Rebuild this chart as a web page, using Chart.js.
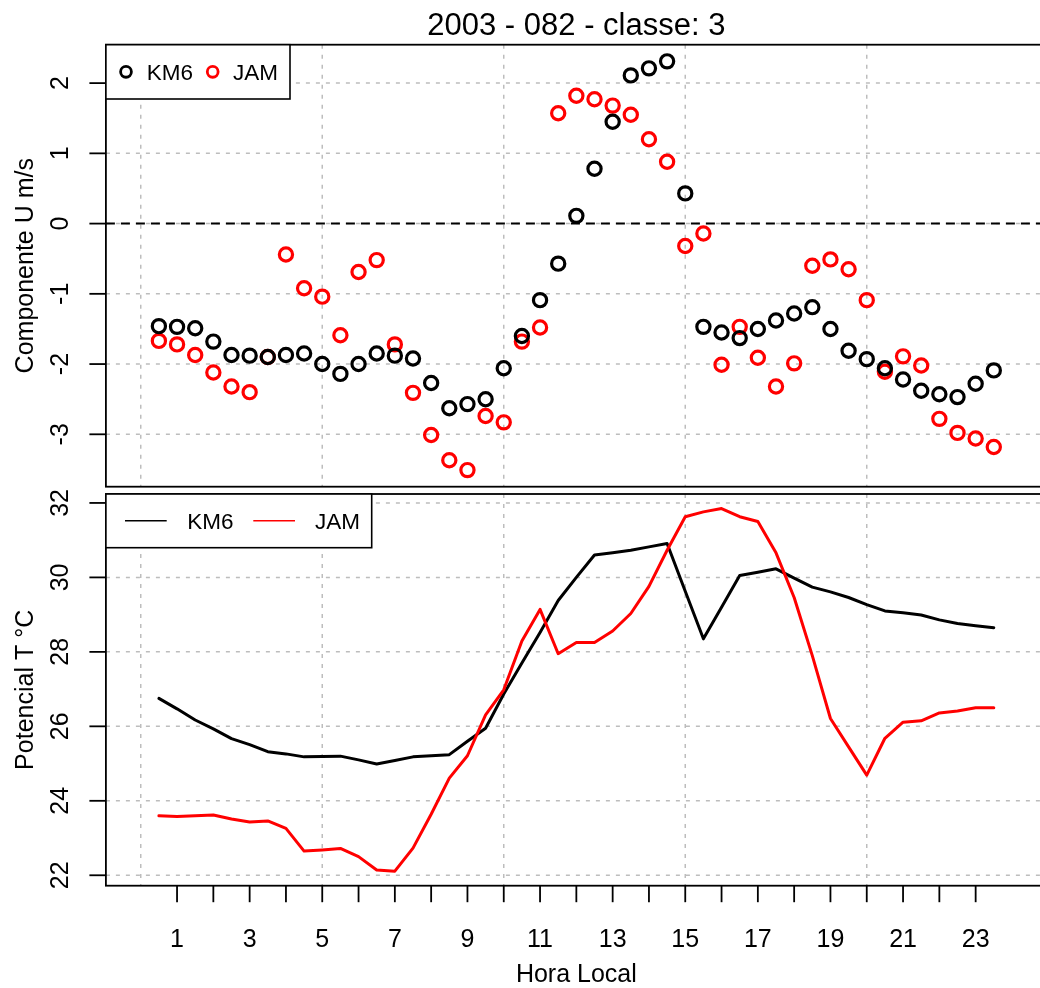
<!DOCTYPE html>
<html>
<head>
<meta charset="utf-8">
<script src="https://cdn.jsdelivr.net/npm/chart.js@4.4.0/dist/chart.umd.min.js"></script>
<style>
  html, body { margin: 0; padding: 0; background: #fff; overflow: hidden; }
  #wrap { position: relative; width: 1040px; height: 988px; overflow: hidden; background: #fff; }
  canvas { position: absolute; left: 0; }
  #uChart { top: 0; }
  #tChart { top: 480px; }
</style>
</head>
<body>
<div id="wrap">
  <canvas id="uChart" width="1050" height="490"></canvas>
  <canvas id="tChart" width="1050" height="508"></canvas>
</div>
<script>
const FONT = '"Liberation Sans", Arial, Helvetica, sans-serif';

// --- Data ---

const hours = [0.5, 1, 1.5, 2, 2.5, 3, 3.5, 4, 4.5, 5, 5.5, 6, 6.5, 7, 7.5, 8, 8.5, 9, 9.5, 10,
  10.5, 11, 11.5, 12, 12.5, 13, 13.5, 14, 14.5, 15, 15.5, 16, 16.5, 17, 17.5, 18, 18.5, 19, 19.5, 20,
  20.5, 21, 21.5, 22, 22.5, 23, 23.5];

// Componente U (m/s)
const km6U = [-1.46, -1.47, -1.49, -1.68, -1.87, -1.88, -1.90, -1.87, -1.85, -2.00,
  -2.14, -2.00, -1.85, -1.88, -1.92, -2.27, -2.63, -2.57, -2.50, -2.06,
  -1.60, -1.09, -0.57, 0.11, 0.78, 1.45, 2.11, 2.21, 2.31, 0.43,
  -1.47, -1.55, -1.63, -1.50, -1.38, -1.28, -1.19, -1.50, -1.81, -1.93,
  -2.06, -2.22, -2.38, -2.43, -2.47, -2.28, -2.09];
const jamU = [-1.67, -1.72, -1.87, -2.12, -2.32, -2.40, -1.90, -0.44, -0.92, -1.04,
  -1.59, -0.69, -0.52, -1.72, -2.41, -3.01, -3.37, -3.51, -2.74, -2.83,
  -1.68, -1.48, 1.57, 1.82, 1.77, 1.68, 1.55, 1.20, 0.88, -0.32,
  -0.14, -2.01, -1.47, -1.91, -2.32, -1.99, -0.60, -0.51, -0.65, -1.09,
  -2.11, -1.89, -2.02, -2.78, -2.98, -3.06, -3.18];

// Potencial T (°C)
const km6T = [26.75, 26.47, 26.17, 25.93, 25.67, 25.51, 25.32, 25.26, 25.18, 25.19,
  25.20, 25.10, 24.99, 25.08, 25.18, 25.21, 25.24, 25.60, 25.95, 26.87,
  27.70, 28.52, 29.38, 30.00, 30.60, 30.66, 30.73, 30.82, 30.91, 29.63,
  28.35, 29.20, 30.05, 30.14, 30.23, 29.98, 29.74, 29.61, 29.46, 29.27,
  29.10, 29.05, 28.99, 28.86, 28.76, 28.70, 28.65];
const jamT = [23.60, 23.58, 23.60, 23.62, 23.51, 23.43, 23.46, 23.26, 22.65, 22.68,
  22.72, 22.50, 22.14, 22.11, 22.73, 23.64, 24.61, 25.21, 26.31, 26.98,
  28.29, 29.14, 27.95, 28.25, 28.25, 28.56, 29.03, 29.76, 30.73, 31.63,
  31.76, 31.85, 31.63, 31.50, 30.66, 29.46, 27.90, 26.21, 25.45, 24.69,
  25.68, 26.11, 26.15, 26.36, 26.41, 26.50, 26.50];

const seriesNames = ['KM6', 'JAM'];
const seriesColors = ['#000000', '#ff0000'];

const uTicks = [-3, -2, -1, 0, 1, 2];
const tTicks = [22, 24, 26, 28, 30, 32];
const hourGrid = [0, 5, 10, 15, 20];
const hourTicks = [1, 2, 3, 4, 5, 6, 7, 8, 9, 10, 11, 12, 13, 14, 15, 16, 17, 18, 19, 20, 21, 22, 23];
const hourLabels = [1, 3, 5, 7, 9, 11, 13, 15, 17, 19, 21, 23];

const titleText = '2003 - 082 - classe: 3';
const uTitle = 'Componente U m/s';
const tTitle = 'Potencial T \u00B0C';
const xTitle = 'Hora Local';

// --- R-style frame plugin ---

function strokeLine(ctx, x1, y1, x2, y2) {
  ctx.beginPath();
  ctx.moveTo(x1, y1);
  ctx.lineTo(x2, y2);
  ctx.stroke();
}

function rotatedText(ctx, text, x, y) {
  ctx.save();
  ctx.translate(x, y);
  ctx.rotate(-Math.PI / 2);
  ctx.fillText(text, 0, 0);
  ctx.restore();
}

function drawLegend(ctx, a, lg) {
  const x0 = a.left, y0 = a.top;
  ctx.save();
  ctx.setLineDash([]);
  ctx.fillStyle = '#fff';
  ctx.fillRect(x0, y0, lg.width, lg.height);
  ctx.strokeStyle = '#000';
  ctx.lineWidth = 1.6;
  ctx.strokeRect(x0, y0, lg.width, lg.height);
  const cy = y0 + lg.height / 2;
  seriesNames.forEach((name, i) => {
    ctx.strokeStyle = seriesColors[i];
    if (lg.type === 'point') {
      ctx.lineWidth = 2.8;
      ctx.beginPath();
      ctx.arc(x0 + lg.keyX[i], cy, 5.4, 0, Math.PI * 2);
      ctx.stroke();
    } else {
      ctx.lineWidth = 1.5;
      strokeLine(ctx, x0 + lg.keyX[i], cy, x0 + lg.keyX[i] + lg.keyW, cy);
    }
    ctx.fillStyle = '#000';
    ctx.font = `22.5px ${FONT}`;
    ctx.textAlign = 'left';
    ctx.textBaseline = 'alphabetic';
    ctx.fillText(name, x0 + lg.textX[i], cy + 8);
  });
  ctx.restore();
}

const rFrame = {
  id: 'rframe',
  beforeDatasetsDraw(chart, args, o) {
    const { ctx, chartArea: a } = chart;
    const xs = chart.scales.x, ys = chart.scales.y;
    ctx.save();
    ctx.strokeStyle = '#bdbdbd';
    ctx.lineWidth = 1.5;
    ctx.setLineDash([4, 6]);
    hourGrid.forEach(h => {
      const px = xs.getPixelForValue(h);
      strokeLine(ctx, px, a.top, px, a.bottom);
    });
    o.yTicks.forEach(v => {
      const py = ys.getPixelForValue(v);
      strokeLine(ctx, a.left, py, a.right, py);
    });
    if (o.zeroLine) {
      ctx.strokeStyle = '#000';
      ctx.lineWidth = 2;
      ctx.setLineDash([9, 6]);
      const py = ys.getPixelForValue(0);
      strokeLine(ctx, a.left, py, a.right, py);
    }
    ctx.restore();
  },
  afterDraw(chart, args, o) {
    const { ctx, chartArea: a } = chart;
    const xs = chart.scales.x, ys = chart.scales.y;
    ctx.save();
    ctx.setLineDash([]);
    ctx.strokeStyle = '#000';
    ctx.fillStyle = '#000';
    ctx.lineWidth = 1.8;
    ctx.strokeRect(a.left, a.top, a.right - a.left, a.bottom - a.top);

    // y axis
    ctx.font = `25px ${FONT}`;
    ctx.textAlign = 'center';
    ctx.textBaseline = 'alphabetic';
    o.yTicks.forEach(v => {
      const py = ys.getPixelForValue(v);
      strokeLine(ctx, a.left, py, a.left - 16.5, py);
      rotatedText(ctx, String(v), a.left - 38, py);
    });
    rotatedText(ctx, o.yTitle, 33.3, (a.top + a.bottom) / 2);

    // x axis (bottom panel only)
    if (o.xAxis) {
      hourTicks.forEach(h => {
        const px = xs.getPixelForValue(h);
        strokeLine(ctx, px, a.bottom, px, a.bottom + 16.5);
      });
      hourLabels.forEach(h => {
        ctx.fillText(String(h), xs.getPixelForValue(h), a.bottom + 61);
      });
      ctx.fillText(xTitle, (a.left + a.right) / 2, a.bottom + 96.5);
    }

    if (o.title) {
      ctx.font = `31px ${FONT}`;
      ctx.fillText(o.title, (a.left + a.right) / 2, 34.6);
    }
    ctx.restore();

    drawLegend(ctx, a, o.legend);
  }
};

const pts = (ys) => hours.map((h, i) => ({ x: h, y: ys[i] }));

// --- Charts ---

function initUChart() {
  const ctx = document.getElementById('uChart').getContext('2d');
  return new Chart(ctx, {
    type: 'scatter',
    data: {
      datasets: [km6U, jamU].map((vals, i) => ({
        label: seriesNames[i],
        data: pts(vals),
        showLine: false,
        pointStyle: 'circle',
        pointRadius: 6.6,
        pointHoverRadius: 6.6,
        pointBorderWidth: 3.2,
        pointBorderColor: seriesColors[i],
        pointBackgroundColor: 'rgba(0,0,0,0)',
        order: i
      }))
    },
    options: {
      responsive: false,
      devicePixelRatio: 1,
      animation: false,
      events: [],
      layout: { autoPadding: false, padding: { left: 105.9, right: 3.2, top: 44.7, bottom: 3.3 } },
      plugins: {
        legend: { display: false },
        tooltip: { enabled: false },
        rframe: {
          yTicks: uTicks,
          yTitle: uTitle,
          zeroLine: true,
          title: titleText,
          xAxis: false,
          legend: { type: 'point', width: 184.1, height: 54.3, keyX: [20.1, 106.8], textX: [40.8, 127.1] }
        }
      },
      scales: {
        x: { type: 'linear', min: -0.96, max: 24.96, display: false },
        y: { type: 'linear', min: -3.746, max: 2.547, display: false }
      }
    },
    plugins: [rFrame]
  });
}

function initTChart() {
  const ctx = document.getElementById('tChart').getContext('2d');
  return new Chart(ctx, {
    type: 'line',
    data: {
      datasets: [km6T, jamT].map((vals, i) => ({
        label: seriesNames[i],
        data: pts(vals),
        borderColor: seriesColors[i],
        borderWidth: 3,
        borderJoinStyle: 'round',
        borderCapStyle: 'round',
        tension: 0,
        pointRadius: 0,
        fill: false,
        order: 1 - i
      }))
    },
    options: {
      responsive: false,
      devicePixelRatio: 1,
      animation: false,
      events: [],
      layout: { autoPadding: false, padding: { left: 105.9, right: 3.2, top: 14, bottom: 102.3 } },
      plugins: {
        legend: { display: false },
        tooltip: { enabled: false },
        rframe: {
          yTicks: tTicks,
          yTitle: tTitle,
          zeroLine: false,
          title: null,
          xAxis: true,
          legend: { type: 'line', width: 265.8, height: 53.7, keyX: [19.1, 147.4], keyW: 41.7, textX: [81.4, 209.1] }
        }
      },
      scales: {
        x: { type: 'linear', min: -0.96, max: 24.96, display: false },
        y: { type: 'linear', min: 21.72, max: 32.24, display: false }
      }
    },
    plugins: [rFrame]
  });
}

initUChart();
initTChart();
</script>
</body>
</html>
